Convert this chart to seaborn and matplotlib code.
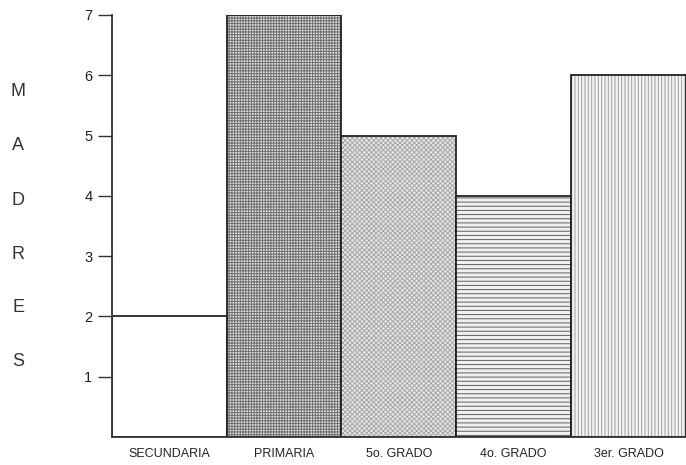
import matplotlib
matplotlib.use('Agg')
import matplotlib.pyplot as plt
import matplotlib.colors as mcolors
import seaborn as sns
import pandas as pd

# Datos
grados = ['SECUNDARIA', 'PRIMARIA', '5o. GRADO', '4o. GRADO', '3er. GRADO']
madres = [2, 7, 5, 4, 6]
tramas = ['', '++++++', 'xxxxxxx', '----', '|||||']
colores = ['white', '#e0e0e0', '#e6e6e6', '#f0f0f0', '#f3f3f3']
color_trama = ['#ffffff', '#6e6e6e', '#a8a8a8', '#5e5e5e', '#a0a0a0']

sns.set_style('white')
plt.rcParams['font.family'] = ['Liberation Sans', 'DejaVu Sans']
plt.rcParams['hatch.linewidth'] = 0.7

df = pd.DataFrame({'grado': grados, 'madres': madres})

fig = plt.figure(figsize=(6.86, 4.65), dpi=100)
ax = fig.add_axes([0.163, 0.060, 0.837, 0.908])
sns.barplot(data=df, x='grado', y='madres', hue='grado', palette=colores,
            width=1.0, edgecolor='#222222', linewidth=1.3, legend=False, ax=ax)

# tramas con su propio color (el borde sigue oscuro)
for bar, h, c in zip(ax.patches, tramas, color_trama):
    bar.set_hatch(h)
    bar._hatch_color = mcolors.to_rgba(c)

ax.set_xlim(-0.5, 4.5)
ax.set_ylim(0, 7)
ax.set_yticks(range(1, 8))
ax.tick_params(axis='y', direction='out', length=10, width=1, color='#333333',
               labelsize=10.5, labelcolor='#222222', pad=4, left=True)
ax.tick_params(axis='x', length=0, labelsize=9, labelcolor='#222222', pad=8)
ax.set_xlabel('')
ax.set_ylabel('')
for s in ['top', 'right']:
    ax.spines[s].set_visible(False)
ax.spines['left'].set_color('#333333')
ax.spines['left'].set_linewidth(1.3)
ax.spines['bottom'].set_color('#333333')
ax.spines['bottom'].set_linewidth(1.3)

# letras del eje y
for i, letra in enumerate('MADRES'):
    fig.text(18 / 686, 1 - (92 + i * 54) / 465, letra, fontsize=13,
             ha='center', va='center', color='#333333')

fig.savefig('out.png', dpi=100)
